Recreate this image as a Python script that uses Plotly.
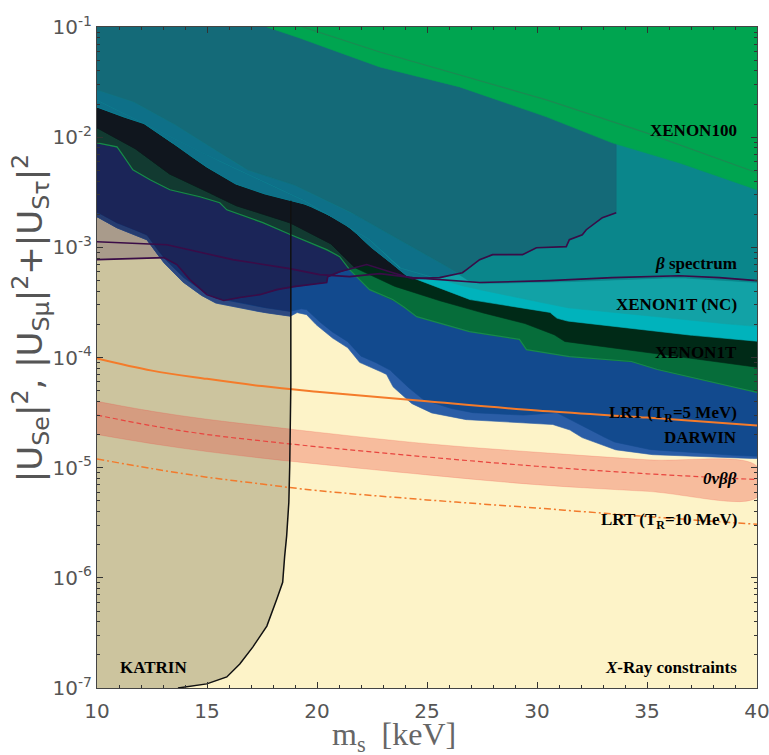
import numpy as np
import plotly.graph_objects as go

# ---------------- data: exclusion / sensitivity boundaries (m_s [keV], |U|^2) ----------------
# KATRIN sensitivity contour (black curve)
katrin_x = [13.68, 14.99, 15.90, 16.49, 17.08, 17.72, 18.17, 18.44, 18.53, 18.62, 18.72, 18.76, 18.81, 18.81]
katrin_y = [1.0e-7, 1.09e-7, 1.26e-7, 1.65e-7, 2.35e-7, 3.65e-7, 6.4e-7, 9.1e-7, 1.57e-6, 2.39e-6,
            4.85e-6, 1.03e-5, 5.46e-5, 2.65e-3]

# beta-spectrum: excluded-region boundary and second contour
beta_x = [10.0, 11.5, 13.04, 13.63, 14.22, 14.99, 15.76, 16.49, 17.40, 18.17, 18.94, 20.44, 20.49, 21.03,
          22.26, 23.30, 24.34, 25.57, 26.61, 26.80, 27.39, 27.98, 29.34, 29.97, 31.33, 31.47, 32.06,
          32.24, 32.83, 32.97, 33.60]
beta_y = [7.73e-4, 7.89e-4, 8.06e-4, 6.97e-4, 5.09e-4, 3.72e-4, 3.29e-4, 3.50e-4, 3.72e-4, 4.13e-4,
          4.40e-4, 4.79e-4, 5.42e-4, 6.01e-4, 6.97e-4, 6.01e-4, 5.20e-4, 5.31e-4, 5.89e-4, 6.28e-4,
          7.73e-4, 8.58e-4, 8.58e-4, 9.93e-4, 1.014e-3, 1.173e-3, 1.30e-3, 1.445e-3, 1.78e-3, 1.86e-3,
          2.06e-3]
beta2_x = [10.0, 13.18, 16.17, 18.76, 20.12, 21.48, 22.85, 24.34, 27.39, 30.56, 33.42, 36.46, 38.28, 40.0]
beta2_y = [1.125e-3, 1.057e-3, 7.73e-4, 6.41e-4, 5.65e-4, 5.42e-4, 5.77e-4, 5.31e-4, 4.79e-4, 4.99e-4,
           5.31e-4, 5.53e-4, 5.31e-4, 4.99e-4]

# XENON100
x100_x = [17.72, 19.21, 20.71, 22.85, 26.48, 30.43, 33.42, 36.46, 40.0]
x100_y = [0.1, 7.95e-2, 6.19e-2, 4.34e-2, 2.86e-2, 1.53e-2, 8.88e-3, 5.85e-3, 3.33e-3]
x100b_x = [19.35, 22.85, 30.43, 34.97, 40.0]
x100b_y = [0.1, 5.93e-2, 2.18e-2, 1.095e-2, 4.75e-3]

# XENON1T (NC): upper and inner boundaries
nc_top_x = [10.0, 11.5, 13.04, 14.68, 16.81, 18.76, 21.35, 23.75, 25.57, 26.93, 27.39, 30.56, 33.42, 36.46, 40.0]
nc_top_y = [2.69e-2, 2.18e-2, 1.50e-2, 9.46e-3, 5.06e-3, 3.85e-3, 2.19e-3, 1.173e-3, 7.41e-4, 4.89e-4,
            4.69e-4, 4.79e-4, 5.09e-4, 5.31e-4, 4.79e-4]
nc_mid_x = [10.0, 14.68, 19.21, 22.30, 23.75, 25.57, 26.93, 29.20, 31.24, 33.74, 37.37, 40.0]
nc_mid_y = [2.18e-2, 7.36e-3, 2.82e-3, 1.225e-3, 6.55e-4, 5.09e-4, 4.31e-4, 3.50e-4, 2.84e-4, 2.56e-4,
            2.12e-4, 1.91e-4]

# XENON1T: upper edge (= lower edge of XENON1T (NC)) and lower edge
x1t_top_x = [10.0, 10.91, 12.09, 12.86, 13.77, 14.68, 16.17, 17.40, 18.76, 19.53, 21.03, 21.62, 22.30,
             23.21, 23.98, 25.48, 26.93, 29.20, 30.56, 30.84, 31.24, 35.78, 40.0]
x1t_top_y = [1.88e-2, 1.593e-2, 1.35e-2, 1.05e-2, 8.0e-3, 5.85e-3, 3.85e-3, 3.13e-3, 2.70e-3, 2.44e-3,
             1.78e-3, 1.445e-3, 1.057e-3, 7.73e-4, 5.65e-4, 4.31e-4, 3.36e-4, 2.84e-4, 2.61e-4, 2.30e-4,
             2.16e-4, 1.68e-4, 1.40e-4]
x1t_low_x = [10.0, 11.63, 13.18, 14.68, 16.17, 17.40, 18.76, 20.58, 21.03, 21.71, 22.39, 23.30, 24.66,
             26.93, 29.20, 30.70, 31.24, 35.78, 40.0]
x1t_low_y = [1.215e-2, 8.17e-3, 4.75e-3, 3.47e-3, 2.44e-3, 2.06e-3, 1.675e-3, 1.10e-3, 8.95e-4, 6.55e-4,
             5.65e-4, 4.59e-4, 3.72e-4, 2.72e-4, 2.12e-4, 1.65e-4, 1.40e-4, 1.064e-4, 8.11e-5]
# XENON1T band: lower edge of its green fringe
x1t_fr_x = [10.0, 10.91, 11.23, 11.63, 12.41, 13.31, 14.68, 15.58, 15.90, 17.54, 18.81, 20.44, 21.03,
            21.48, 22.39, 23.44, 23.98, 24.53, 26.93, 29.20, 29.52, 31.47, 34.29, 35.47, 40.0]
x1t_fr_y = [8.88e-3, 8.17e-3, 6.63e-3, 5.06e-3, 4.10e-3, 3.33e-3, 2.88e-3, 2.54e-3, 2.19e-3, 1.675e-3,
            1.30e-3, 9.53e-4, 8.23e-4, 6.28e-4, 4.13e-4, 3.36e-4, 2.84e-4, 2.35e-4, 1.72e-4, 1.46e-4,
            1.18e-4, 1.02e-4, 9.20e-5, 7.78e-5, 4.82e-5]

# DARWIN: inner (dark) and outer (light) lower edges
dw_in_x = [10.0, 10.77, 11.5, 12.27, 12.59, 13.04, 13.77, 14.54, 15.31, 16.81, 18.76, 19.21, 19.53, 19.80,
           20.58, 21.35, 21.94, 22.39, 23.30, 23.89, 24.80, 25.89, 26.93, 29.20, 30.88, 32.24, 33.42,
           34.97, 37.96, 40.0]
dw_in_y = [2.10e-3, 1.71e-3, 1.51e-3, 1.30e-3, 1.057e-3, 8.06e-4, 5.65e-4, 4.31e-4, 3.50e-4, 3.02e-4,
           2.61e-4, 2.78e-4, 2.72e-4, 2.40e-4, 1.76e-4, 1.43e-4, 1.04e-4, 9.59e-5, 7.78e-5, 5.93e-5,
           4.16e-5, 3.52e-5, 3.17e-5, 2.98e-5, 3.17e-5, 2.32e-5, 1.73e-5, 1.47e-5, 1.32e-5, 1.27e-5]
dw_out_x = [10.0, 10.77, 11.5, 12.27, 12.59, 13.04, 13.77, 14.54, 15.31, 16.81, 18.76, 19.08, 19.53, 19.80,
            20.58, 21.35, 21.94, 22.39, 23.16, 23.44, 24.21, 25.12, 26.61, 29.20, 30.70, 31.47, 31.92,
            33.42, 34.97, 37.96, 40.0]
dw_out_y = [1.90e-3, 1.54e-3, 1.358e-3, 1.173e-3, 9.53e-4, 7.26e-4, 5.09e-4, 3.88e-4, 3.15e-4, 2.72e-4,
            2.35e-4, 2.56e-4, 2.45e-4, 2.12e-4, 1.55e-4, 1.26e-4, 9.01e-5, 8.29e-5, 7.02e-5, 5.46e-5,
            3.91e-5, 3.17e-5, 2.74e-5, 2.58e-5, 2.47e-5, 2.22e-5, 1.92e-5, 1.47e-5, 1.32e-5, 1.24e-5,
            1.21e-5]

# 0vbb band and LRT curves
m_grid = [10, 12.5, 15, 17.5, 20, 25, 30, 35, 40]
nbb_hi = [4.0e-5, 3.25e-5, 2.75e-5, 2.4e-5, 2.1e-5, 1.65e-5, 1.38e-5, 1.18e-5, 1.03e-5]
nbb_mid = [3.0e-5, 2.4e-5, 2.0e-5, 1.75e-5, 1.55e-5, 1.25e-5, 1.03e-5, 8.8e-6, 7.8e-6]
nbb_lo = [2.0e-5, 1.65e-5, 1.4e-5, 1.22e-5, 1.08e-5, 8.6e-6, 7.0e-6, 6.1e-6, 5.4e-6]
lrt5 = [9.8e-5, 7.6e-5, 6.4e-5, 5.5e-5, 4.9e-5, 4.0e-5, 3.3e-5, 2.85e-5, 2.42e-5]
lrt10 = [1.2e-5, 9.8e-6, 8.2e-6, 7.1e-6, 6.2e-6, 5.1e-6, 4.3e-6, 3.6e-6, 3.06e-6]

# text labels
labels = ["XENON100", "<i>β</i> spectrum", "XENON1T (NC)", "XENON1T", "LRT (T<sub>R</sub>=5 MeV)",
          "DARWIN", "<i>0νββ</i>", "LRT (T<sub>R</sub>=10 MeV)", "<i>X</i>-Ray constraints"]
label_y = [1.14e-2, 7.1e-4, 3.0e-4, 1.11e-4, 3.04e-5, 1.88e-5, 8.0e-6, 3.26e-6, 1.52e-7]
katrin_label_y = 1.55e-7

X_MIN, X_MAX = 10.0, 40.0
TOP = 0.3            # above the visible range, clipped by the axes
BETA_XMAX = beta_x[-1]
KATRIN_XMAX = katrin_x[-1]

fig = go.Figure()


def logi(xs, ys, grid):
    return 10 ** np.interp(grid, xs, np.log10(ys))


def above(xs, ys, x0, x1, floor=None, top=TOP):
    """Polygon covering everything above a boundary curve between x0 and x1."""
    pts = [x0, x1] + [v for v in xs if x0 <= v <= x1]
    if floor is not None:
        pts += [v for v in floor[0] if x0 <= v <= x1]
    grid = np.unique(np.concatenate([np.linspace(x0, x1, 500), pts]))
    lo = logi(xs, ys, grid)
    if floor is not None:
        lo = np.maximum(lo, logi(floor[0], floor[1], grid))
    return list(grid) + [x1, x0], list(lo) + [top, top]


def fill(px, py, color, shape="linear"):
    fig.add_trace(go.Scatter(x=px, y=py, mode="lines", fill="toself", fillcolor=color,
                             line=dict(width=0.6, color=color, shape=shape),
                             hoverinfo="skip", showlegend=False))


def line(xs, ys, color, width=1.5, dash="solid", shape="linear"):
    fig.add_trace(go.Scatter(x=xs, y=ys, mode="lines",
                             line=dict(color=color, width=width, dash=dash, shape=shape),
                             hoverinfo="skip", showlegend=False))


beta = (beta_x, beta_y)

# KATRIN region
fill([9.9] + katrin_x + [9.9], [5e-8] + katrin_y + [katrin_y[-1]], "#CCC49E")
fill(*above(beta_x, beta_y, 9.9, KATRIN_XMAX, top=katrin_y[-1]), "#A99B8B")

# 0vbb band
fill(m_grid + m_grid[::-1], nbb_hi + nbb_lo[::-1], "rgba(236,62,58,0.30)", shape="spline")

# layered bands: (lower edge, colour, colour over KATRIN, colour inside beta region)
bands = [
    (dw_out_x, dw_out_y, "#2A5DA6", "#2C4880", "#263C70"),
    (dw_in_x, dw_in_y, "#124A8E", "#16306B", "#1B2558"),
    (x1t_fr_x, x1t_fr_y, "#066D3A", None, "#123A31"),
    (x1t_low_x, x1t_low_y, "#002A17", None, "#10161E"),
    (x1t_top_x, x1t_top_y, "#00B3BC", None, "#0E7088"),
    (nc_mid_x, nc_mid_y, "#12A2A6", None, "#0E7088"),
    (nc_top_x, nc_top_y, "#0A868B", None, "#146A78"),
]
for bx, by, c, ck, cb in bands:
    fill(*above(bx, by, 9.9, 40.1), c)
    if ck:
        fill(*above(bx, by, 9.9, KATRIN_XMAX), ck)
    fill(*above(bx, by, 9.9, BETA_XMAX, floor=beta), cb)
    if bx is x1t_fr_x:
        line(bx, by, "#178A4A", 1.2)

# XENON100
fill(x100_x + [40.1, 40.1, x100_x[0]], x100_y + [x100_y[-1], TOP, TOP], "#00A550")
line(x100b_x, x100b_y, "#1B8A52", 1.2)

# curves
line(beta_x, beta_y, "#3A0C47", 1.6)
line(beta2_x, beta2_y, "#3A0C47", 1.6)
line(m_grid, lrt5, "#F47B2A", 2.0, shape="spline")
line(m_grid, nbb_mid, "#E8453F", 1.2, "5px,3px", shape="spline")
line(m_grid, lrt10, "#F27A2C", 1.5, "7px,3px,2px,3px", shape="spline")
line(katrin_x, katrin_y, "#111111", 1.5)

# region labels
lab_font = dict(family="Liberation Serif", size=17, color="black", weight="bold")
for txt, yv in zip(labels, label_y):
    fig.add_annotation(x=39.2, y=np.log10(yv), xref="x", yref="y", text=txt, showarrow=False,
                       xanchor="right", yanchor="middle", font=lab_font)
fig.add_annotation(x=10.95, y=np.log10(katrin_label_y), xref="x", yref="y", text="KATRIN",
                   showarrow=False, xanchor="left", yanchor="middle", font=lab_font)

# axis titles
fig.add_annotation(x=-0.101, y=0.56, xref="paper", yref="paper", textangle=-90, showarrow=False,
                   xanchor="center", yanchor="middle",
                   text="|U<sub>Se</sub>|<sup>2</sup>, |U<sub>Sμ</sub>|<sup>2</sup>+|U<sub>Sτ</sub>|<sup>2</sup>",
                   font=dict(family="DejaVu Sans", size=34, color="#555555"))
fig.add_annotation(x=0.45, y=-0.074, xref="paper", yref="paper", showarrow=False,
                   xanchor="center", yanchor="middle",
                   text="m<sub>s</sub>  [keV]",
                   font=dict(family="Liberation Serif", size=32, color="#666666"))

ytv = [10.0 ** k for k in range(-7, 0)]
ytt = ["10<sup>-%d</sup>" % (-k) for k in range(-7, 0)]

fig.update_xaxes(range=[X_MIN, X_MAX], tickvals=[10, 15, 20, 25, 30, 35, 40],
                 ticks="inside", ticklen=6, tickcolor="#333", mirror="ticks", showline=True,
                 linecolor="#444", linewidth=1, showgrid=False, zeroline=False,
                 automargin=False, ticklabeloverflow="allow", ticklabelstandoff=5,
                 tickfont=dict(family="DejaVu Sans", size=20, color="#555555"),
                 minor=dict(ticks="inside", ticklen=3, dtick=1, tickcolor="#333"))
fig.update_yaxes(type="log", range=[-7, -1], tickvals=ytv, ticktext=ytt,
                 ticks="inside", ticklen=6, tickcolor="#333", mirror="ticks", showline=True,
                 linecolor="#444", linewidth=1, showgrid=False, zeroline=False,
                 automargin=False, ticklabeloverflow="allow",
                 tickfont=dict(family="DejaVu Sans", size=20, color="#555555"),
                 minor=dict(ticks="inside", ticklen=3, tickcolor="#333", dtick="D1"))

fig.update_layout(width=769, height=755, margin=dict(l=97, r=12, t=27, b=67, autoexpand=False),
                  plot_bgcolor="#FDF3C8", paper_bgcolor="white", showlegend=False)

fig.write_html("out.html")
